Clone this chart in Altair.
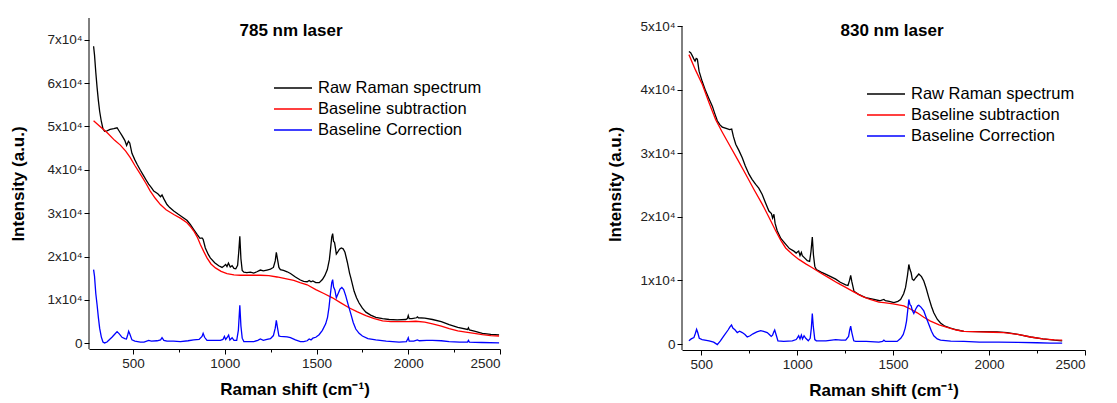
import altair as alt
import pandas as pd

SERIES = ["Raw Raman spectrum", "Baseline subtraction", "Baseline Correction"]
COLORS = ["#000000", "#ff0000", "#0000ff"]

# ---------------- 785 nm laser ----------------
raw785_x = [285, 290, 297, 304, 311, 318, 327, 336, 345, 358, 375, 395, 413, 425, 440, 455, 465, 475, 482, 494,
            510, 522, 540, 558, 572, 585, 600, 613, 635, 650, 658, 668, 685, 700, 722, 745, 776, 795, 812, 830,
            849, 865, 876, 882, 894, 910, 921, 945, 967, 985, 994, 1005, 1012, 1020, 1030, 1040, 1050, 1060, 1070,
            1076, 1082, 1088, 1095, 1104, 1120, 1140, 1158, 1175, 1194, 1210, 1230, 1249, 1265, 1275, 1281, 1287,
            1295, 1303, 1320, 1340, 1358, 1385, 1412, 1430, 1449, 1460, 1470, 1480, 1496, 1515, 1532, 1545, 1559,
            1570, 1577, 1583, 1588, 1593, 1598, 1603, 1608, 1615, 1625, 1635, 1645, 1655, 1668, 1680, 1687, 1695,
            1705, 1718, 1732, 1750, 1769, 1795, 1823, 1860, 1896, 1940, 1987, 1995, 2000, 2005, 2020, 2045, 2050,
            2055, 2090, 2132, 2180, 2223, 2270, 2323, 2328, 2333, 2360, 2404, 2450, 2495]
raw785_y = [68500, 66500, 62500, 59000, 56000, 53500, 51200, 49500, 48900, 49000, 49300, 49500, 49700, 48900,
            47900, 46800, 45600, 46600, 46200, 43800, 42300, 41300, 39900, 38600, 37600, 36700, 35900, 35100,
            34500, 33800, 34200, 33300, 32000, 31300, 30500, 29800, 28900, 28300, 27400, 26300, 25100, 24200,
            24300, 24000, 22000, 20500, 19700, 18600, 17900, 17500, 17800, 18200, 17700, 18500, 17600, 17900,
            17300, 17200, 18000, 21000, 24700, 19500, 16800, 16400, 16300, 16400, 16200, 16500, 16900, 16700,
            16900, 17100, 17500, 19000, 21000, 19500, 17500, 17000, 16800, 16500, 16100, 15300, 14600, 14300,
            14200, 14500, 14200, 14400, 14000, 14000, 14700, 15600, 17000, 19300, 22000, 24500, 25300, 23500,
            23300, 22000, 20600, 21000, 21700, 22000, 21800, 21000, 18700, 16200, 15100, 13700, 12000, 10500,
            9300, 8100, 7200, 6500, 6000, 5700, 5500, 5400, 5500, 5700, 6400, 5700, 5700, 5900, 6100, 5900, 5800,
            5500, 5000, 4300, 3700, 3200, 3600, 3100, 2800, 2300, 2050, 1950]

base785_x = [285, 320, 358, 400, 431, 460, 485, 510, 540, 570, 594, 620, 649, 680, 722, 760, 794, 815, 831, 850,
             867, 885, 903, 925, 949, 980, 1012, 1050, 1085, 1140, 1194, 1240, 1285, 1330, 1376, 1410, 1449, 1496,
             1540, 1587, 1630, 1677, 1720, 1769, 1815, 1860, 1905, 1950, 2000, 2041, 2090, 2132, 2180, 2223, 2270,
             2314, 2360, 2404, 2450, 2495]
base785_y = [51300, 50000, 48600, 46800, 45700, 44300, 42800, 41000, 39000, 36900, 35100, 33500, 32000, 30800,
             29700, 28800, 27800, 26800, 25900, 24500, 22800, 21200, 19700, 18300, 17400, 16600, 16100, 15800,
             15700, 15700, 15700, 15600, 15300, 14900, 14500, 14000, 13500, 12400, 11500, 10500, 9400, 8200, 7300,
             6400, 5700, 5200, 5000, 5000, 5000, 5100, 4900, 4500, 4000, 3400, 2900, 2600, 2300, 2000, 1800, 1700]

corr785_x = [285, 290, 297, 304, 311, 318, 327, 336, 345, 358, 372, 385, 400, 413, 425, 440, 455, 464, 470, 476,
             482, 494, 510, 540, 560, 585, 600, 631, 650, 658, 668, 685, 720, 758, 800, 831, 860, 876, 882, 890,
             903, 940, 976, 990, 998, 1005, 1015, 1021, 1028, 1040, 1050, 1065, 1074, 1082, 1088, 1095, 1104,
             1130, 1158, 1180, 1194, 1210, 1230, 1249, 1265, 1275, 1281, 1287, 1295, 1303, 1340, 1358, 1385,
             1412, 1430, 1449, 1460, 1470, 1480, 1496, 1514, 1532, 1550, 1560, 1568, 1576, 1583, 1588, 1593,
             1600, 1608, 1618, 1628, 1638, 1648, 1659, 1672, 1687, 1700, 1714, 1732, 1750, 1780, 1823, 1880,
             1950, 1990, 1997, 2000, 2005, 2030, 2050, 2060, 2100, 2132, 2180, 2223, 2280, 2323, 2328, 2333,
             2400, 2495]
corr785_y = [17000, 15500, 11500, 8900, 6000, 3500, 1500, 300, 100, 300, 900, 1400, 2100, 2700, 2200, 1400, 1100,
             1000, 1800, 2800, 2200, 800, 500, 300, 300, 700, 500, 600, 800, 1300, 700, 500, 500, 400, 600, 800,
             900, 1600, 2300, 1400, 700, 700, 700, 900, 1600, 900, 1500, 1900, 800, 1300, 700, 700, 3000, 8800,
             4000, 1200, 400, 400, 400, 700, 1000, 700, 900, 1100, 1800, 3500, 5300, 3700, 1700, 1600, 1500, 1300,
             800, 400, 400, 600, 1000, 800, 1200, 1400, 2000, 3000, 4500, 6000, 8300, 11500, 14000, 14700, 13000,
             12300, 10500, 11500, 12500, 12900, 12400, 11000, 9000, 6800, 4800, 3300, 2300, 1700, 1100, 800, 500,
             300, 400, 1000, 1300, 500, 500, 800, 600, 700, 700, 600, 400, 300, 300, 700, 300, 200, 100]

# ---------------- 830 nm laser ----------------
raw830_x = [436, 445, 454, 462, 468, 474, 480, 489, 505, 523, 540, 558, 570, 584, 597, 610, 630, 648, 659, 668,
            680, 697, 714, 730, 749, 765, 784, 800, 818, 835, 853, 866, 872, 879, 885, 896, 915, 940, 960, 983,
            995, 1003, 1008, 1015, 1022, 1027, 1040, 1053, 1065, 1072, 1079, 1085, 1092, 1100, 1125, 1148, 1175,
            1201, 1225, 1253, 1265, 1273, 1279, 1285, 1296, 1320, 1357, 1400, 1430, 1452, 1460, 1480, 1504, 1525,
            1539, 1555, 1565, 1575, 1582, 1588, 1594, 1600, 1608, 1620, 1634, 1648, 1660, 1672, 1686, 1700, 1712,
            1730, 1747, 1770, 1799, 1835, 1869, 1950, 2042, 2094, 2150, 2216, 2280, 2340, 2381]
raw830_y = [46000, 45800, 45300, 44800, 44500, 44900, 44800, 42900, 41300, 39800, 38600, 37400, 36300, 35100,
            34500, 34100, 33900, 33700, 33800, 32600, 31400, 30400, 29300, 28000, 26700, 25900, 25100, 24500,
            23500, 22200, 20900, 20500, 19800, 20400, 19000, 17800, 16600, 15700, 15000, 14600, 14300, 14500,
            14600, 13900, 14400, 13900, 13500, 13100, 13000, 14500, 16800, 14000, 12200, 11700, 11300, 11000,
            10600, 10200, 9700, 9300, 9200, 10000, 10800, 9800, 8300, 7800, 7300, 7000, 6800, 7000, 6800, 6700,
            6500, 6700, 7000, 7900, 8900, 10800, 12500, 11700, 11200, 10200, 10000, 10500, 11000, 10600, 9900,
            8800, 7300, 5900, 4900, 3900, 3300, 2800, 2500, 2200, 2000, 1950, 1900, 1800, 1500, 1100, 800, 600, 500]

base830_x = [436, 470, 506, 540, 575, 610, 645, 690, 732, 775, 818, 855, 888, 915, 940, 975, 1009, 1045, 1079,
             1120, 1166, 1210, 1253, 1295, 1339, 1380, 1426, 1452, 1500, 1556, 1590, 1626, 1660, 1695, 1740, 1782,
             1830, 1869, 1950, 2020, 2077, 2150, 2216, 2280, 2340, 2381]
base830_y = [45500, 43100, 40800, 38000, 35300, 33300, 31400, 29000, 26700, 24300, 22000, 19800, 17800, 16300,
             15100, 14100, 13300, 12600, 12000, 11200, 10400, 9600, 8900, 8200, 7500, 7000, 6600, 6500, 6300, 6000,
             5500, 4900, 4200, 3600, 3000, 2600, 2200, 2000, 1900, 1850, 1800, 1500, 1100, 800, 650, 600]

corr830_x = [436, 448, 462, 470, 476, 482, 490, 505, 541, 565, 584, 600, 619, 640, 650, 658, 665, 677, 688, 700,
             714, 728, 740, 755, 770, 790, 810, 825, 844, 855, 865, 872, 878, 883, 890, 900, 930, 975, 995, 1002,
             1008, 1015, 1022, 1028, 1036, 1045, 1058, 1068, 1074, 1079, 1084, 1092, 1100, 1150, 1201, 1230, 1253,
             1268, 1274, 1279, 1285, 1295, 1305, 1360, 1426, 1445, 1452, 1460, 1490, 1521, 1540, 1553, 1563, 1570,
             1577, 1582, 1588, 1594, 1600, 1608, 1618, 1628, 1634, 1645, 1660, 1672, 1686, 1700, 1712, 1730, 1747,
             1800, 1869, 1950, 2050, 2150, 2250, 2320, 2381]
corr830_y = [500, 800, 1000, 1700, 2300, 1800, 900, 700, 500, 300, -100, 500, 1300, 2200, 2700, 3000, 2500, 2200,
             1800, 2000, 1800, 1500, 1100, 1300, 1600, 1900, 2100, 2000, 1800, 1500, 1200, 1400, 1900, 2200, 1500,
             500, 400, 500, 700, 1000, 1300, 800, 1400, 800, 1300, 900, 500, 900, 2500, 4800, 2800, 700, 500, 500,
             700, 600, 600, 1200, 2200, 2800, 1800, 500, 400, 400, 300, 400, 600, 400, 400, 400, 900, 1500, 2500,
             3600, 5500, 7000, 6200, 6000, 5300, 4800, 5500, 6000, 6100, 5800, 5200, 4200, 3100, 2000, 1300, 800,
             600, 450, 400, 300, 300, 250, 200, 150, 150]

X_TICKS = [250, 500, 750, 1000, 1250, 1500, 1750, 2000, 2250, 2500]
FONT = "Liberation Sans"


def frame(parts):
    rows = []
    for name, xs, ys in parts:
        for i, (a, b) in enumerate(zip(xs, ys)):
            rows.append({"shift": a, "intensity": b, "series": name, "order": i})
    return pd.DataFrame(rows)


def panel(df, xdom, ydom, ytop, axis_top, w, h, label, lab_x, lab_y, leg_x, leg_y, ytp):
    xvals = [v for v in X_TICKS if xdom[0] <= v <= xdom[1]]
    yvals = list(range(0, ytop + 1, 5000))
    lines = alt.Chart(df).mark_line(strokeWidth=1.3, clip=True).encode(
        x=alt.X("shift:Q", scale=alt.Scale(domain=xdom, nice=False, zero=False),
                axis=alt.Axis(values=xvals, title="Raman shift (cm⁻¹)",
                              labelExpr="datum.value % 500 == 0 ? '' + datum.value : ''",
                              tickSize={"condition": {"test": "datum.value % 500 == 0", "value": 5}, "value": 3},
                              labelPadding=2, titlePadding=12)),
        y=alt.Y("intensity:Q", scale=alt.Scale(domain=ydom, nice=False, zero=False),
                axis=alt.Axis(values=yvals, title="Intensity (a.u.)", domain=False,
                              labelExpr="datum.value == 0 ? '0' : (datum.value % 10000 == 0 ? (datum.value / 10000) + 'x10⁴' : '')",
                              tickSize={"condition": {"test": "datum.value % 10000 == 0", "value": 5}, "value": 3},
                              labelPadding=2, titlePadding=ytp)),
        color=alt.Color("series:N", scale=alt.Scale(domain=SERIES, range=COLORS),
                        legend=alt.Legend(orient="none", legendX=leg_x, legendY=leg_y, title=None,
                                          symbolType="M-1.9,0H1.9", symbolSize=400, symbolStrokeWidth=1.3,
                                          labelFontSize=16.5, labelFont=FONT, labelColor="#000",
                                          labelOffset=14, padding=0, rowPadding=1, labelLimit=400)),
        order="order:Q",
    )
    # y axis line, from the bottom of the scale up to the axis top value
    yline = alt.Chart(pd.DataFrame({"a": [ydom[0]], "b": [axis_top]})).mark_rule(
        color="#000", strokeWidth=1
    ).encode(x=alt.value(0), y=alt.Y("a:Q"), y2="b:Q")
    txt = alt.Chart(pd.DataFrame({"t": [label]})).mark_text(
        font=FONT, fontSize=17, fontWeight="bold", color="#000", align="center", baseline="middle"
    ).encode(text="t:N", x=alt.value(lab_x), y=alt.value(lab_y))
    return alt.layer(lines, yline, txt).properties(width=w, height=h)


df785 = frame([(SERIES[0], raw785_x, raw785_y), (SERIES[1], base785_x, base785_y), (SERIES[2], corr785_x, corr785_y)])
df830 = frame([(SERIES[0], raw830_x, raw830_y), (SERIES[1], base830_x, base830_y), (SERIES[2], corr830_x, corr830_y)])

left = panel(df785, [260, 2500], [-1300, 75000], 70000, 75000, 411, 331, "785 nm laser", 202, 13, 193, 59, 19)
right = panel(df830, [400, 2500], [-943, 51258], 50000, 50000, 403, 332, "830 nm laser", 210, 13, 193, 65, 15)

chart = alt.hconcat(left, right, spacing=105).resolve_scale(color="independent").properties(
    padding={"left": 9, "top": 17, "right": 5, "bottom": 2}
).configure_view(stroke=None).configure_axis(
    labelFont=FONT, labelFontSize=13.5, labelColor="#222", titleFont=FONT, titleFontSize=17,
    titleFontWeight="bold", titleColor="#000", domainColor="#000", tickColor="#000", grid=False,
    labelOverlap=False, domainWidth=1, tickWidth=1
)

chart.save("out.html", embed_options={"renderer": "svg", "actions": False})
